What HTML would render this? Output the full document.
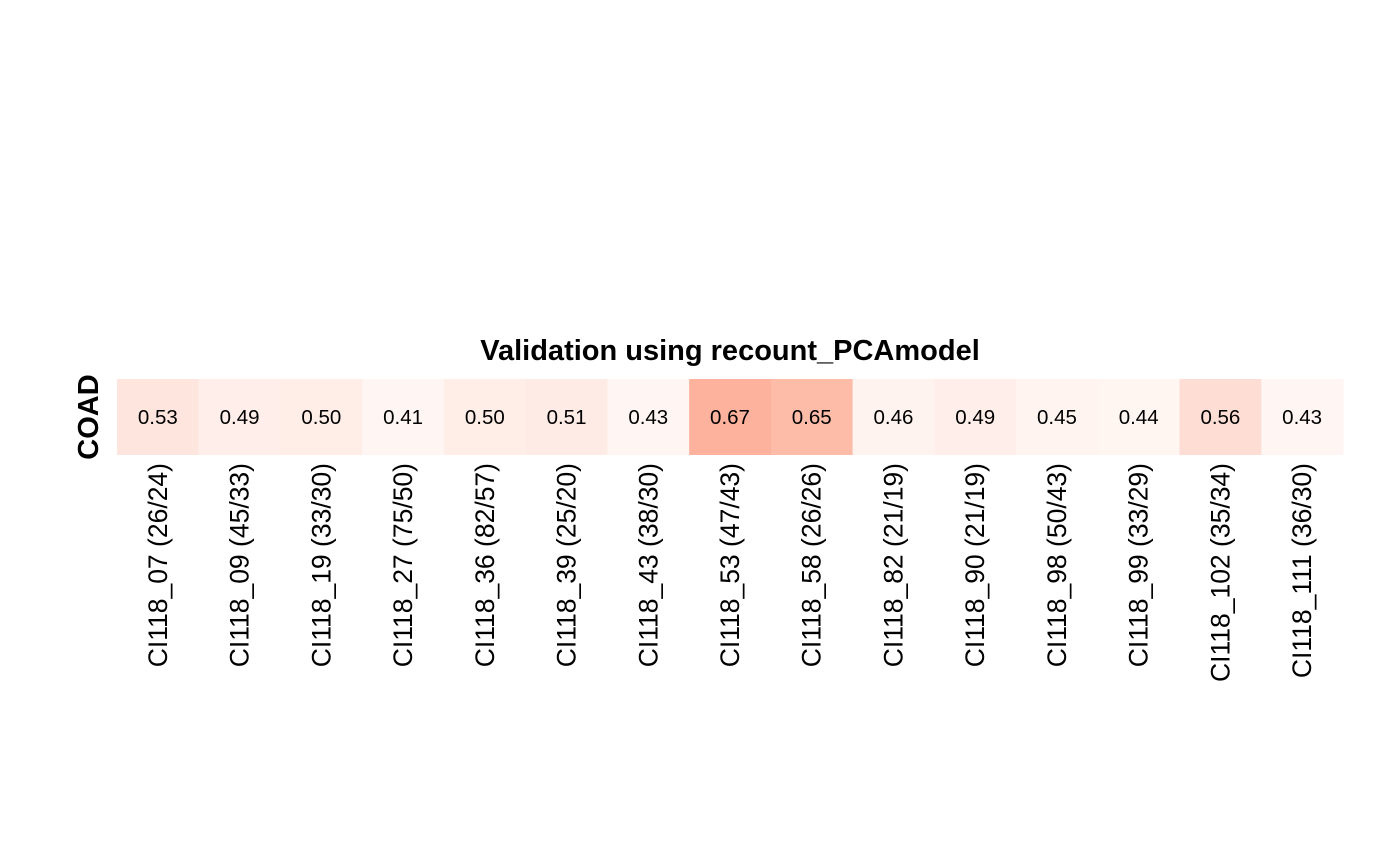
<!DOCTYPE html>
<html><head><meta charset="utf-8"><style>
html,body{margin:0;padding:0;background:#fff;}
svg{display:block;font-family:"Liberation Sans",Arial,sans-serif;}
</style></head><body>
<svg id="chart" width="1400" height="865">
<text x="730" y="360" text-anchor="middle" font-size="29" font-weight="bold">Validation using recount_PCAmodel</text>
<text transform="translate(98,417) rotate(-90)" text-anchor="middle" font-size="29" font-weight="bold">COAD</text>
<g id="cells"></g>
</svg>
<script>
const categories = ["CI118_07 (26/24)","CI118_09 (45/33)","CI118_19 (33/30)","CI118_27 (75/50)","CI118_36 (82/57)","CI118_39 (25/20)","CI118_43 (38/30)","CI118_53 (47/43)","CI118_58 (26/26)","CI118_82 (21/19)","CI118_90 (21/19)","CI118_98 (50/43)","CI118_99 (33/29)","CI118_102 (35/34)","CI118_111 (36/30)"];
const values = [0.53,0.49,0.50,0.41,0.50,0.51,0.43,0.67,0.65,0.46,0.49,0.45,0.44,0.56,0.43];
const x0 = 117, x1 = 1343, yTop = 379, yBot = 455;
const cw = (x1 - x0) / categories.length;
function xPos(i){ return x0 + i * cw; }
function color(v){
  const lo=[255,246,243], hi=[252,178,156];
  let t=(v-0.40)/(0.67-0.40); t=Math.max(0,Math.min(1,t)); t=t*t;
  const c=lo.map((a,k)=>Math.round(a+(hi[k]-a)*t));
  return `rgb(${c[0]},${c[1]},${c[2]})`;
}
const g=document.getElementById('cells'), NS="http://www.w3.org/2000/svg";
values.forEach((v,i)=>{
  const r=document.createElementNS(NS,'rect');
  r.setAttribute('x',xPos(i)); r.setAttribute('y',yTop);
  r.setAttribute('width',cw+0.5); r.setAttribute('height',yBot-yTop);
  r.setAttribute('fill',color(v));
  
  
  g.appendChild(r);
  const t=document.createElementNS(NS,'text');
  t.setAttribute('x',xPos(i)+cw/2); t.setAttribute('y',(yTop+yBot)/2+7);
  t.setAttribute('text-anchor','middle'); t.setAttribute('font-size','20.5');
  t.textContent=v.toFixed(2);
  
  
  g.appendChild(t);
  const l=document.createElementNS(NS,'text');
  const lx=xPos(i)+cw/2+9, ly=463;
  l.setAttribute('transform',`translate(${lx},${ly}) rotate(-90)`);
  l.setAttribute('text-anchor','end'); l.setAttribute('font-size','26.5');
  l.textContent=categories[i];
  
  
  g.appendChild(l);
});
</script>
</body></html>
